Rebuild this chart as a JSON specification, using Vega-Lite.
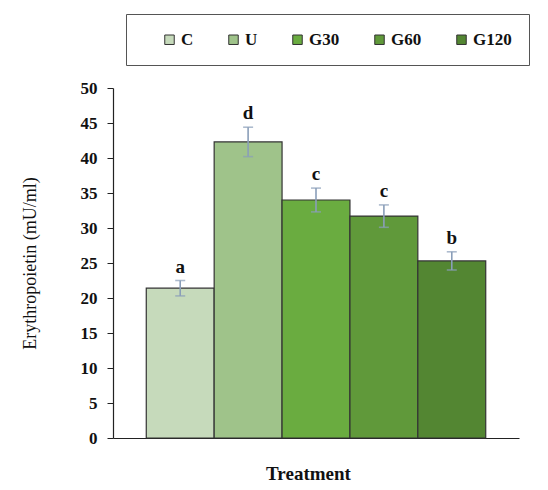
{
  "$schema": "https://vega.github.io/schema/vega-lite/v6.json",
  "width": 406,
  "height": 350,
  "autosize": "none",
  "padding": {"left": 113, "top": 88, "right": 29, "bottom": 52},
  "background": "white",
  "config": {"font": "Liberation Serif", "view": {"stroke": null}},
  "data": {
    "values": [
      {"treatment": "C", "mean": 21.4, "err": 1.1, "upper": 22.5, "letter": "a"},
      {"treatment": "U", "mean": 42.3, "err": 2.1, "upper": 44.4, "letter": "d"},
      {"treatment": "G30", "mean": 34.0, "err": 1.7, "upper": 35.7, "letter": "c"},
      {"treatment": "G60", "mean": 31.7, "err": 1.6, "upper": 33.3, "letter": "c"},
      {"treatment": "G120", "mean": 25.3, "err": 1.3, "upper": 26.6, "letter": "b"}
    ]
  },
  "encoding": {
    "x": {
      "field": "treatment",
      "type": "nominal",
      "sort": ["C", "U", "G30", "G60", "G120"],
      "scale": {"paddingInner": 0, "paddingOuter": 0.49},
      "axis": {
        "title": "Treatment",
        "labels": false,
        "ticks": false,
        "domainColor": "#222",
        "domainWidth": 1.2,
        "titleFont": "Liberation Serif",
        "titleFontSize": 19,
        "titleFontWeight": "bold",
        "titleColor": "#111",
        "titlePadding": 26,
        "titleX": 195
      }
    },
    "y": {
      "field": "mean",
      "type": "quantitative",
      "title": "Erythropoietin (mU/ml)",
      "scale": {"domain": [0, 50]},
      "axis": {
        "values": [0, 5, 10, 15, 20, 25, 30, 35, 40, 45, 50],
        "labelOverlap": false,
        "grid": false,
        "domainColor": "#222",
        "domainWidth": 1.2,
        "tickColor": "#222",
        "tickSize": 6,
        "labelFontSize": 17,
        "labelFontWeight": "bold",
        "labelColor": "#111",
        "labelPadding": 10,
        "titleFontSize": 18,
        "titleFontWeight": "normal",
        "titleColor": "#111",
        "titlePadding": 41
      }
    }
  },
  "layer": [
    {
      "mark": {"type": "bar", "stroke": "#333", "strokeWidth": 1.2},
      "encoding": {
        "color": {
          "field": "treatment",
          "type": "nominal",
          "sort": ["C", "U", "G30", "G60", "G120"],
          "scale": {
            "domain": ["C", "U", "G30", "G60", "G120"],
            "range": ["#c6dabb", "#9fc38a", "#6aac40", "#60993a", "#538632"]
          },
          "legend": {
            "title": null,
            "orient": "none",
            "direction": "horizontal",
            "legendX": 13,
            "legendY": -74,
            "padding": 17,
            "strokeColor": "#555",
            "symbolType": "square",
            "symbolSize": 90,
            "symbolStrokeColor": "#333",
            "symbolStrokeWidth": 1,
            "symbolOffset": 18,
            "labelFontSize": 17,
            "labelFontWeight": "bold",
            "labelColor": "#111",
            "labelOffset": 3,
            "columnPadding": 13
          }
        }
      }
    },
    {
      "mark": {
        "type": "errorbar",
        "color": "#8a9eb9",
        "thickness": 1.6,
        "ticks": {"size": 10, "thickness": 1.6, "color": "#8a9eb9"}
      },
      "encoding": {
        "yError": {"field": "err"}
      }
    },
    {
      "mark": {
        "type": "text",
        "baseline": "alphabetic",
        "dy": -8,
        "fontSize": 19,
        "fontWeight": "bold",
        "color": "#111"
      },
      "encoding": {
        "y": {"field": "upper", "type": "quantitative", "title": "Erythropoietin (mU/ml)"},
        "text": {"field": "letter"}
      }
    }
  ]
}
